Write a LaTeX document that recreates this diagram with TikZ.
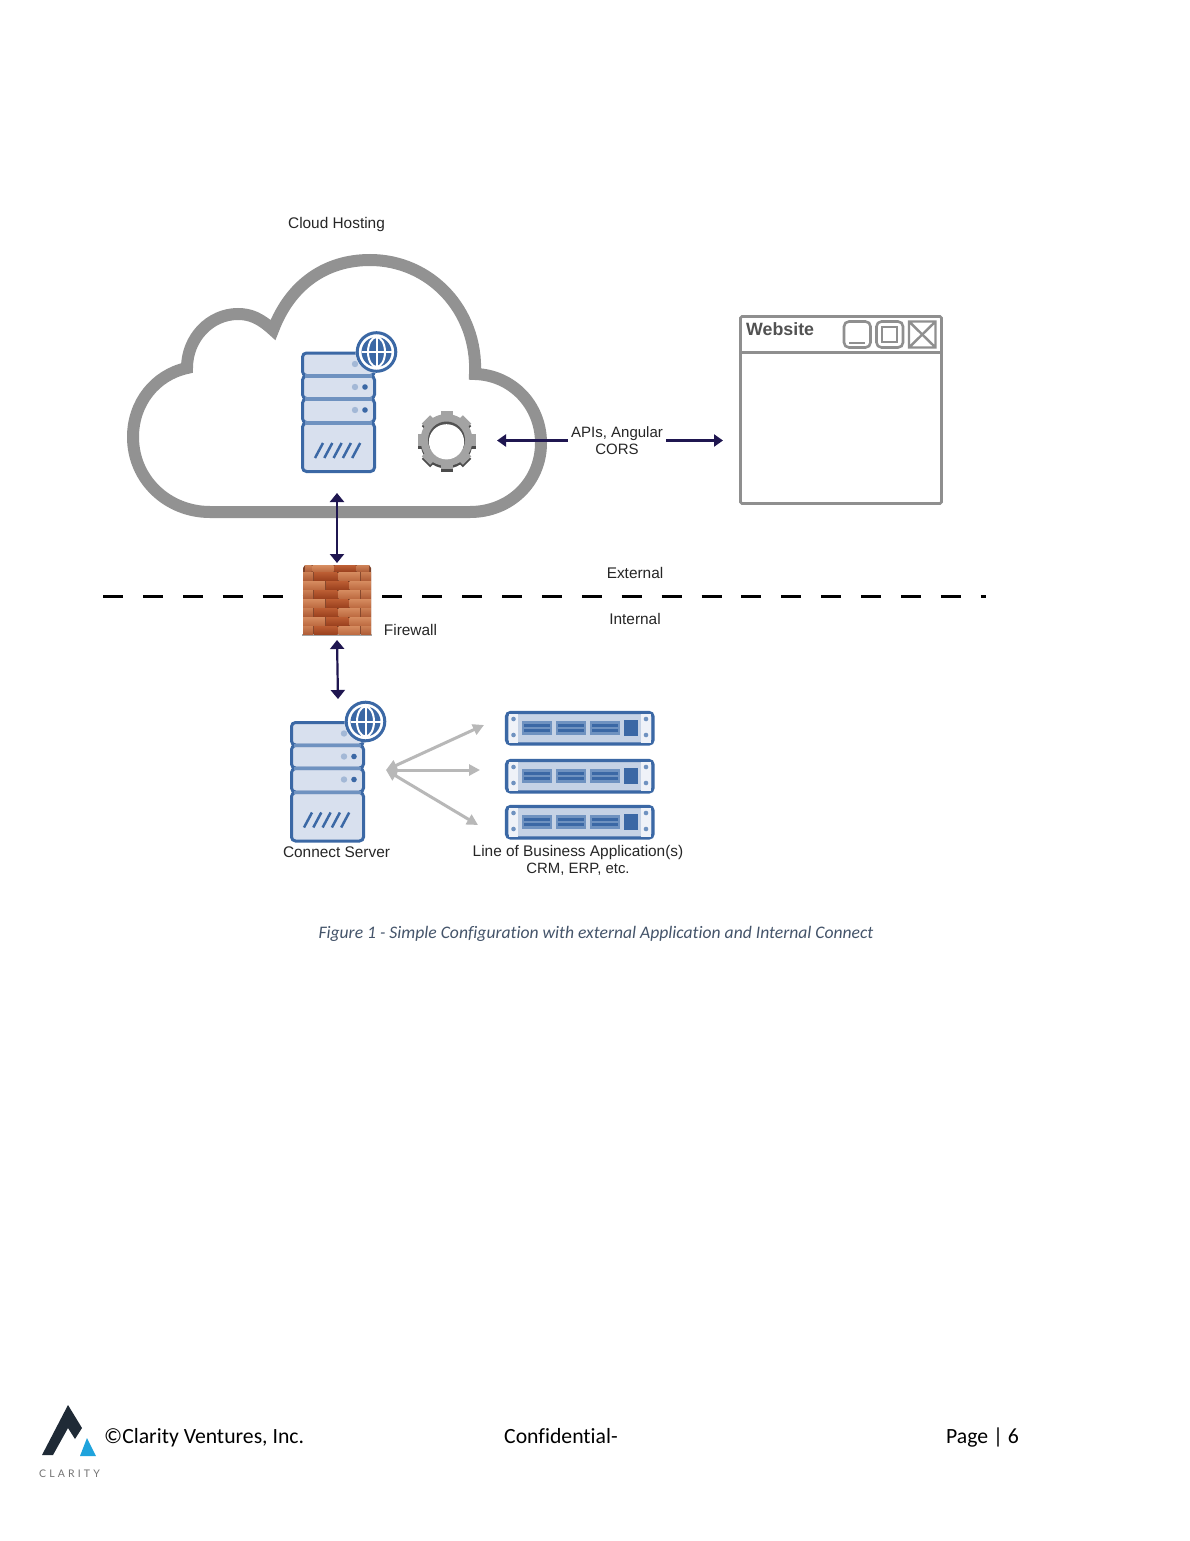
\documentclass[tikz,border=0pt]{standalone}
\usepackage{fontspec}
\setmainfont{Liberation Sans}
\newfontfamily\capfont[Ligatures=NoCommon]{Carlito}
\newfontfamily\logofont[LetterSpace=30]{Lato}
\usetikzlibrary{arrows.meta}
\definecolor{srvblue}{HTML}{3B68A5}
\definecolor{srvfill}{HTML}{D8E0EE}
\definecolor{srvmid}{HTML}{6F92C0}
\definecolor{srvdot}{HTML}{A3B8D6}
\definecolor{rackfill}{HTML}{C5D2E5}
\definecolor{rackend}{HTML}{EFF2F8}
\definecolor{navyarrow}{HTML}{1F1650}
\definecolor{cloudgray}{HTML}{929292}
\definecolor{wingray}{HTML}{8F8F8F}
\definecolor{capblue}{HTML}{44546A}
\definecolor{mortar}{HTML}{7E4229}
\definecolor{logodark}{HTML}{1F2A36}
\definecolor{logoblue}{HTML}{1FA3DC}
\definecolor{lighttop}{HTML}{D68C60}
\definecolor{lightbot}{HTML}{BE6C42}
\definecolor{midtop}{HTML}{CC8055}
\definecolor{midbot}{HTML}{B05E38}
\definecolor{darktop}{HTML}{BC5E34}
\definecolor{darkbot}{HTML}{9C421F}
\tikzset{
  lbl/.style={font=\fontsize{15.4}{17}\selectfont,text=black!85,inner sep=0pt,align=center},
  foot/.style={font=\capfont\fontsize{21.7}{24}\selectfont,text=black,inner sep=0pt,anchor=base west},
  navy/.style={draw=navyarrow,line width=2.2pt,{Triangle[length=9pt,width=14pt]}-{Triangle[length=9pt,width=14pt]}},
  navyone/.style={draw=navyarrow,line width=2.2pt,-{Triangle[length=9pt,width=12pt]}},
  grayarrow/.style={draw=black!28,line width=3pt,{Triangle[length=11pt,width=11pt]}-{Triangle[length=11pt,width=11pt]}},
  winline/.style={draw=wingray,line width=2.6pt,rounded corners=1.5pt},
  srvbox/.style={draw=srvblue,fill=srvfill,line width=3pt,rounded corners=4pt},
  brl/.style={top color=lighttop,bottom color=lightbot},
  brm/.style={top color=midtop,bottom color=midbot},
  brd/.style={top color=darktop,bottom color=darkbot},
}
\newcommand{\srvat}[3]{%
 \begin{scope}[shift={(#1,#2)}]
  \coordinate (#3) at (36.5,60);
  \draw[srvbox] (0.5,1) rectangle (72.5,23.5);
  \draw[srvbox] (0.5,24) rectangle (72.5,46.5);
  \draw[srvbox] (0.5,47) rectangle (72.5,70.5);
  \draw[srvbox] (0.5,71) rectangle (72.5,119.5);
  \foreach \yy in {23.8,46.8,70.8}{\draw[srvmid,line width=3.4pt] (3,\yy) -- (70,\yy);}
  \foreach \yy in {12,35,58}{\fill[srvdot] (53,\yy) circle (3.2);}
  \foreach \yy in {35,58}{\fill[srvblue] (63,\yy) circle (2.8);}
  \foreach \xx in {0,9.3,18.6,27.9,37.2}{\draw[srvblue,line width=2.5pt] (13+\xx,106) -- (21+\xx,91);}
  \fill[white] (74.5,0) circle (21);
  \draw[srvblue,line width=3pt] (74.5,0) circle (19.3);
  \fill[srvblue] (74.5,0) circle (15);
  \draw[white,line width=2pt] (74.5,-15) -- (74.5,15) (59.5,0) -- (89.5,0);
  \draw[white,line width=2pt] (74.5,0) ellipse (8.5 and 15);
 \end{scope}}
\newcommand{\rackat}[2]{%
 \begin{scope}[shift={(#1,#2)}]
  \draw[draw=srvblue,fill=rackfill,line width=3.2pt,rounded corners=4pt] (1.5,1.5) rectangle (148,33);
  \fill[rackend] (3.5,3) rectangle (13,31.5);
  \fill[rackend] (136,3) rectangle (146,31.5);
  \foreach \yy in {8,24}{\fill[srvmid] (8.5,\yy) circle (2.3); \fill[srvmid] (141,\yy) circle (2.3);}
  \foreach \xx in {17,51,85}{
    \fill[srvmid] (\xx,10) rectangle (\xx+30,23.5);
    \fill[srvblue] (\xx+2,12.5) rectangle (\xx+28,15.5);
    \fill[srvblue] (\xx+2,18) rectangle (\xx+28,21);
  }
  \fill[srvblue] (118.5,9) rectangle (132.5,24.5);
 \end{scope}}
\newcommand{\gearshape}{%
  \fill (0,0) circle (26);
  \foreach \a in {0,45,...,315}{\fill[rotate=\a] (-6,-22) rectangle (6,-29);}}
\begin{document}
\begin{tikzpicture}[x=1pt,y=-1pt]
\useasboundingbox (0,0) rectangle (1190,1541);
\fill[white] (0,0) rectangle (1190,1541);

% cloud
\draw[cloudgray,line width=12pt,line join=miter]
 (210,512) -- (470,512)
 .. controls (510,512) and (541,482) .. (541,443)
 .. controls (541,405) and (512,375) .. (475,374)
 .. controls (478,310) and (430,260) .. (370,260)
 .. controls (325,260) and (290,285) .. (273,330)
 .. controls (260,318) and (250,314) .. (238,314)
 .. controls (210,314) and (187,338) .. (187,368)
 .. controls (155,375) and (133,403) .. (133,437)
 .. controls (133,480) and (168,512) .. (210,512) -- cycle;
\node[lbl] (cloudlabel) at (336.5,225) {Cloud Hosting};

\srvat{302}{352}{srvtop}

% gear
\begin{scope}[shift={(446.5,440)}]
  \begin{scope}[yshift=-2.5pt,black!70]\gearshape\end{scope}
  \begin{scope}[black!36]\gearshape\end{scope}
  \fill[black!68] (0,0) circle (18.5);
  \fill[white] (0,1.8) circle (17.6);
\end{scope}

% website window
\draw[winline] (740.5,316.5) rectangle (941.5,503.5);
\draw[draw=wingray,line width=2.6pt] (740.5,352.5) -- (941.5,352.5);
\node[font=\bfseries\fontsize{17.8}{18}\selectfont,text=black!68,inner sep=0pt,anchor=west] (webtitle) at (746,329) {Website};
\draw[winline,rounded corners=5pt] (844,321.5) rectangle (870.5,347.5);
\draw[draw=wingray,line width=2.2pt] (849,343) -- (865,343);
\draw[winline,rounded corners=5pt] (876.5,321.5) rectangle (903,347.5);
\draw[draw=wingray,line width=2.4pt] (882,327) rectangle (897,342);
\draw[draw=wingray,line width=2.4pt] (909,321.5) rectangle (935.5,347.5) (909,321.5) -- (935.5,347.5) (935.5,321.5) -- (909,347.5);

% API arrows
\node[lbl,font=\fontsize{15}{17}\selectfont] (api) at (617,441) {APIs, Angular\\CORS};
\coordinate (apileft) at (497,440.5);
\coordinate (apiright) at (723,440.5);
\draw[navyone] (api.west |- apileft) ++(-3,0) coordinate (apil) (apil) -- (apileft);
\draw[navyone] (api.east |- apiright) ++(3,0) coordinate (apir) (apir) -- (apiright);

% dashed boundary
\coordinate (dashl) at (103,596.5);
\coordinate (dashr) at (986,596.5);
\draw[black,line width=2.4pt,dash pattern=on 20pt off 19.9pt] (dashl) -- (dashr);

% firewall
\begin{scope}
  \fill[mortar] (303,568) -- (305,565) -- (369,565) -- (371,568) -- (371,634.5) -- (303,634.5) -- cycle;
  \fill[black!35] (302,634) rectangle (372,635.5);
  \foreach \yy/\h in {565.5/5.8}{
    \fill[brm] (305,\yy) rectangle (311.5,\yy+\h);
    \fill[brl] (312.5,\yy) rectangle (333.5,\yy+\h);
    \fill[brd] (334.5,\yy) rectangle (355.5,\yy+\h);
    \fill[brm] (356.5,\yy) rectangle (369,\yy+\h);
  }
  \foreach \yy in {572,590,608,626}{
    \fill[brm] (303,\yy) rectangle (313,\yy+8);
    \fill[brd] (314,\yy) rectangle (337.5,\yy+8);
    \fill[brl] (338.5,\yy) rectangle (360,\yy+8);
    \fill[brm] (361,\yy) rectangle (371,\yy+8);
  }
  \foreach \yy in {581,599,617}{
    \fill[brl] (303,\yy) rectangle (325,\yy+8);
    \fill[brd] (326,\yy) rectangle (348.5,\yy+8);
    \fill[brl] (349.5,\yy) rectangle (371,\yy+8);
  }
\end{scope}
\node[lbl] (fwlabel) at (410.5,630) {Firewall};
\node[lbl] (extlabel) at (635,572.5) {External};
\node[lbl] (intlabel) at (635,618.5) {Internal};

% vertical arrows
\coordinate (c1) at (337,493);
\coordinate (f1) at (337,563);
\coordinate (f2) at (337,640);
\coordinate (s2) at (338,699);
\draw[navy] (c1) -- (f1);
\draw[navy] (f2) -- (s2);

\srvat{291}{721.5}{srvlow}
\node[lbl] (srvlabel) at (336.5,852.5) {Connect Server};

% racks
\rackat{505}{711}
\rackat{505}{759}
\rackat{505}{805}
\node[lbl] (lob) at (578,860) {Line of Business Application(s)\\\fontsize{14.9}{17}\selectfont CRM, ERP, etc.};

% gray arrows
\coordinate (hub) at (386,770);
\coordinate (g1) at (484,725);
\coordinate (g2) at (480,770);
\coordinate (g3) at (478,825);
\draw[grayarrow] (hub) -- (g1);
\draw[grayarrow] (hub) -- (g2);
\draw[grayarrow] (hub) -- (g3);

% caption
\node[font=\capfont\itshape\fontsize{17.6}{20}\selectfont,text=capblue,inner sep=0pt] (caption) at (596,934) {Figure 1 - Simple Configuration with external Application and Internal Connect};

% footer
\fill[logodark] (68,1405) -- (82,1428) -- (75,1439) -- (68,1428) -- (53,1455) -- (42,1455) -- cycle;
\fill[logoblue] (87,1438) -- (96,1456) -- (80,1456) -- cycle;
\node[font=\logofont\fontsize{10.5}{12}\selectfont,text=black!55,inner sep=0pt] (logotext) at (69.5,1473.5) {CLARITY};
\node[foot] (f1t) at (104,1443) {©Clarity Ventures, Inc.};
\node[foot] (f2t) at (504,1443) {Confidential-};
\node[foot] (f3t) at (946,1443) {Page | 6};
\end{tikzpicture}
\end{document}
